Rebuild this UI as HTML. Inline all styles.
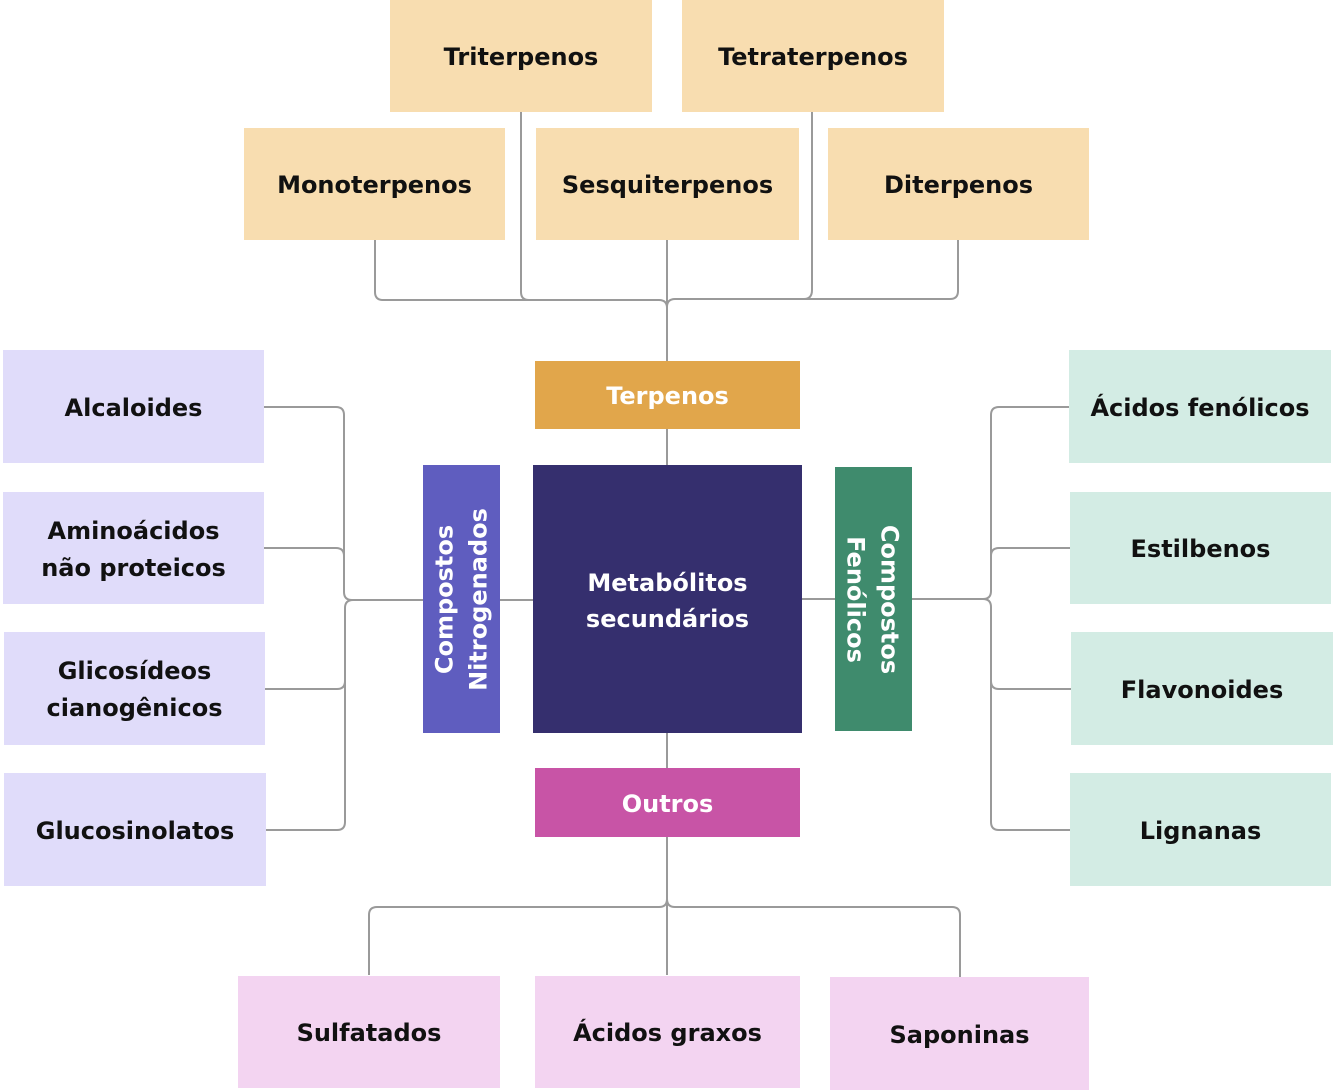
<!DOCTYPE html>
<html>
<head>
<meta charset="utf-8">
<style>
  html, body { margin:0; padding:0; }
  body { width:1335px; height:1090px; background:#ffffff; position:relative; overflow:hidden;
         font-family:"DejaVu Sans","Liberation Sans",sans-serif; font-weight:bold; }
  .b { position:absolute; display:flex; align-items:center; justify-content:center; text-align:center;
       font-size:24px; line-height:37px; color:#111111; box-sizing:border-box; padding-top:3px; }
  .peach { background:#F8DDB0; }
  .lav { background:#E0DCFA; }
  .mint { background:#D3ECE4; }
  .pink { background:#F3D4F1; }
  .w { color:#ffffff; }
  .rot { position:absolute; width:268px; height:77px; display:flex; align-items:center; justify-content:center;
         text-align:center; font-size:24px; line-height:34px; color:#fff; }
  svg { position:absolute; left:0; top:0; }
</style>
</head>
<body>
<svg width="1335" height="1090" viewBox="0 0 1335 1090">
  <g fill="none" stroke="#9a9a9a" stroke-width="2">
    <!-- top -->
    <path d="M375,240 V292 Q375,300 383,300 H659 Q667,300 667,308"/>
    <path d="M521,112 V292 Q521,300 529,300"/>
    <path d="M667,240 V361"/>
    <path d="M812,112 V290 Q812,299 804,299 H675 Q667,299 667,307"/>
    <path d="M958,240 V291 Q958,299 950,299 H804"/>
    <!-- left -->
    <path d="M264,407 H336 Q344,407 344,415 V592 Q344,600 352,600 H423"/>
    <path d="M264,548 H336 Q344,548 344,556"/>
    <path d="M265,689 H337 Q345,689 345,681"/>
    <path d="M266,830 H337 Q345,830 345,822 V608 Q345,600 353,600"/>
    <!-- right -->
    <path d="M1069,407 H999 Q991,407 991,415 V591 Q991,599 983,599 H912"/>
    <path d="M1070,548 H999 Q991,548 991,556"/>
    <path d="M1071,689 H999 Q991,689 991,681"/>
    <path d="M1070,830 H999 Q991,830 991,822 V607 Q991,599 983,599"/>
    <!-- center -->
    <path d="M500,600 H533"/>
    <path d="M802,599 H835"/>
    <path d="M667,429 V465"/>
    <path d="M667,733 V768"/>
    <!-- bottom -->
    <path d="M667,837 V975"/>
    <path d="M667,899 Q667,907 659,907 H377 Q369,907 369,915 V975"/>
    <path d="M667,899 Q667,907 675,907 H952 Q960,907 960,915 V977"/>
  </g>
</svg>

<!-- Top rows -->
<div class="b peach" style="left:390px;top:0;width:262px;height:112px;">Triterpenos</div>
<div class="b peach" style="left:682px;top:0;width:262px;height:112px;">Tetraterpenos</div>
<div class="b peach" style="left:244px;top:128px;width:261px;height:112px;">Monoterpenos</div>
<div class="b peach" style="left:536px;top:128px;width:263px;height:112px;">Sesquiterpenos</div>
<div class="b peach" style="left:828px;top:128px;width:261px;height:112px;">Diterpenos</div>

<!-- Center -->
<div class="b w" style="left:535px;top:361px;width:265px;height:68px;background:#E1A64B;">Terpenos</div>
<div class="b w" style="left:533px;top:465px;width:269px;height:268px;background:#352F6E;line-height:36px;">Metabólitos<br>secundários</div>
<div class="b w" style="left:535px;top:768px;width:265px;height:69px;background:#C854A6;">Outros</div>

<div style="position:absolute;left:423px;top:465px;width:77px;height:268px;background:#5F5DBF;"></div>
<div class="rot" style="left:327px;top:561px;transform:rotate(-90deg);">Compostos<br>Nitrogenados</div>

<div style="position:absolute;left:835px;top:467px;width:77px;height:264px;background:#3F8B6D;"></div>
<div class="rot" style="left:739px;top:561px;transform:rotate(90deg);">Compostos<br>Fenólicos</div>

<!-- Left -->
<div class="b lav" style="left:3px;top:350px;width:261px;height:113px;">Alcaloides</div>
<div class="b lav" style="left:3px;top:492px;width:261px;height:112px;">Aminoácidos<br>não proteicos</div>
<div class="b lav" style="left:4px;top:632px;width:261px;height:113px;">Glicosídeos<br>cianogênicos</div>
<div class="b lav" style="left:4px;top:773px;width:262px;height:113px;">Glucosinolatos</div>

<!-- Right -->
<div class="b mint" style="left:1069px;top:350px;width:262px;height:113px;">Ácidos fenólicos</div>
<div class="b mint" style="left:1070px;top:492px;width:261px;height:112px;">Estilbenos</div>
<div class="b mint" style="left:1071px;top:632px;width:262px;height:113px;">Flavonoides</div>
<div class="b mint" style="left:1070px;top:773px;width:261px;height:113px;">Lignanas</div>

<!-- Bottom -->
<div class="b pink" style="left:238px;top:976px;width:262px;height:112px;">Sulfatados</div>
<div class="b pink" style="left:535px;top:976px;width:265px;height:112px;">Ácidos graxos</div>
<div class="b pink" style="left:830px;top:977px;width:259px;height:113px;">Saponinas</div>
</body>
</html>
